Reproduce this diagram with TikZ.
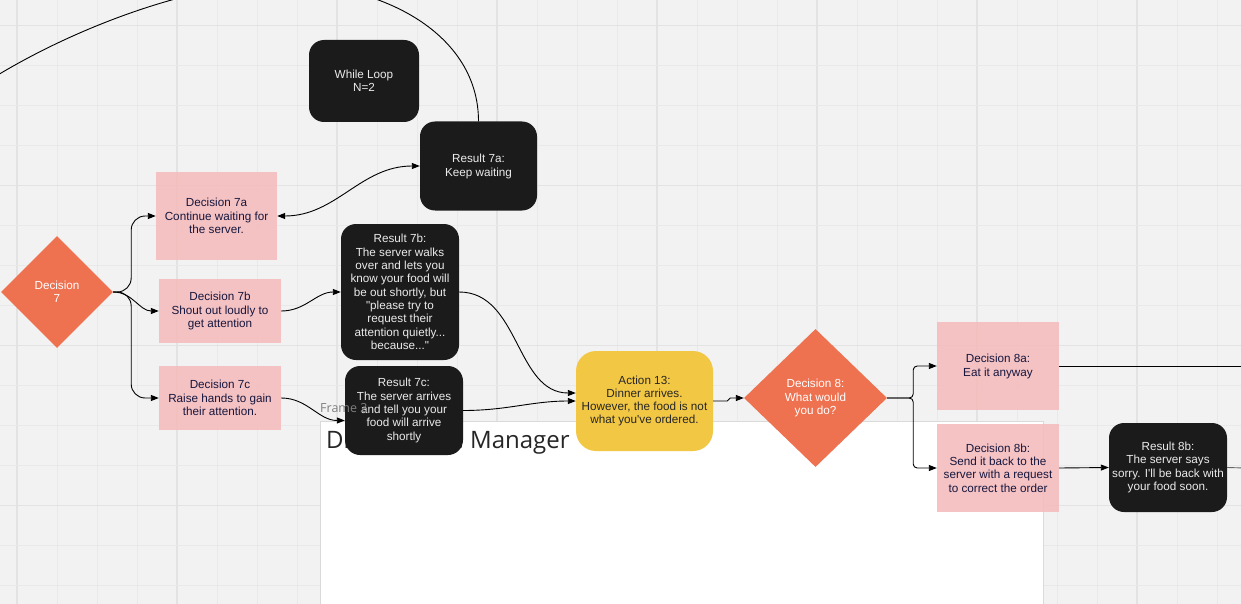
\documentclass[tikz,border=0pt]{standalone}
\usepackage{fontspec}
\setmainfont{Liberation Sans}
\newfontfamily\framefont{Open Sans}
\usetikzlibrary{arrows.meta,shapes.geometric,calc}
\definecolor{cBg}{RGB}{242,242,242}
\definecolor{cGridThin}{RGB}{233,233,233}
\definecolor{cGridThick}{RGB}{227,227,227}
\definecolor{cPink}{RGB}{245,189,189}
\definecolor{cNavy}{RGB}{22,22,62}
\definecolor{cCoral}{RGB}{238,113,80}
\definecolor{cDark}{RGB}{27,27,27}
\definecolor{cYellow}{RGB}{242,199,68}
\definecolor{cFrameGray}{RGB}{128,128,128}
\definecolor{cFrameEdge}{RGB}{218,218,218}
\begin{document}
\begin{tikzpicture}[x=1pt,y=-1pt,
  every node/.style={font=\fontsize{11.7}{13.3}\selectfont, align=center, inner sep=0pt},
  pinkstep/.style={rectangle, fill=cPink, fill opacity=0.9, text opacity=1, text=cNavy},
  darkstep/.style={rectangle, rounded corners=15pt, fill=cDark, text=white!92!black},
  decisionstep/.style={diamond, fill=cCoral, text=white, shape aspect=1},
  actionstep/.style={rectangle, rounded corners=20pt, fill=cYellow, text=black!85},
  conn/.style={draw=black, line width=0.9pt, -{Triangle[length=8pt,width=6pt]}},
  plainline/.style={draw=black, line width=0.9pt},
]
\useasboundingbox (0,0) rectangle (1241,604);
\clip (0,0) rectangle (1241,604);
% background and grid
\fill[cBg] (0,0) rectangle (1241,604);
\foreach \k in {0,...,30} {
  \pgfmathtruncatemacro{\m}{mod(\k,4)}
  \ifnum\m=0
    \draw[cGridThick, line width=1.3pt] ({17+40*\k},0) -- ({17+40*\k},604);
  \else
    \draw[cGridThin, line width=0.9pt] ({17+40*\k},0) -- ({17+40*\k},604);
  \fi
}
\foreach \k in {0,...,14} {
  \pgfmathtruncatemacro{\m}{mod(\k,4)}
  \ifnum\m=0
    \draw[cGridThick, line width=1.3pt] (0,{25.7+40*\k}) -- (1241,{25.7+40*\k});
  \else
    \draw[cGridThin, line width=0.9pt] (0,{25.7+40*\k}) -- (1241,{25.7+40*\k});
  \fi
}
% frame
\node[rectangle, draw=cFrameEdge, line width=0.8pt, fill=white, minimum width=723, minimum height=200, anchor=north west] (frame) at (320,421) {};
\node[anchor=base west, font=\framefont\fontsize{24}{28}\selectfont, text=black!85] (frametitle) at (326,448) {Dinner Time Manager};

% nodes
\node[darkstep, minimum width=110, minimum height=82] (loop) at (364,81) {While Loop\\N=2};
\node[darkstep, minimum width=117, minimum height=89] (r7a) at (478.5,166) {\strut Result 7a:\\Keep waiting};
\node[pinkstep, minimum width=121, minimum height=88] (d7a) at (216.5,216) {Decision 7a\\Continue waiting for\\the server.};
\node[decisionstep, minimum width=112, minimum height=112] (d7) at (57,292) {Decision\\7};
\node[pinkstep, minimum width=122, minimum height=64] (d7b) at (220,311) {Decision 7b\\Shout out loudly to\\get attention};
\node[pinkstep, minimum width=122, minimum height=64] (d7c) at (220,398) {Decision 7c\\Raise hands to gain\\their attention.};
\node[darkstep, minimum width=118, minimum height=136] (r7b) at (400,292) {Result 7b:\\The server walks\\over and lets you\\know your food will\\be out shortly, but\\\textquotedbl please try to\\request their\\attention quietly...\\because...\textquotedbl};
\node[darkstep, minimum width=118, minimum height=89] (r7c) at (404,410.5) {Result 7c:\\The server arrives\\and tell you your\\food will arrive\\shortly};
\node[actionstep, minimum width=137, minimum height=100] (a13) at (644.5,401) {Action 13:\\Dinner arrives.\\However, the food is not\\what you\textquotesingle ve ordered.};
\node[decisionstep, minimum width=143, minimum height=138] (d8) at (815.5,398) {Decision 8:\\What would\\you do?};
\node[pinkstep, minimum width=122, minimum height=88] (d8a) at (998,366) {\strut Decision 8a:\\Eat it anyway};
\node[pinkstep, minimum width=122, minimum height=88] (d8b) at (998,468) {Decision 8b:\\Send it back to the\\server with a request\\to correct the order};
\node[darkstep, minimum width=118, minimum height=89] (r8b) at (1168,467.5) {Result 8b:\\The server says\\sorry. I\textquotesingle ll be back with\\your food soon.};

% frame label (drawn over the nodes, as in the picture)
\node[anchor=base west, font=\framefont\fontsize{12.5}{15}\selectfont, text=cFrameGray] (framelabel) at (320,412) {Frame 2};

% free ends
\coordinate (loopTop) at (278,-17);
\coordinate (loopEnd) at (-40,100);
\coordinate (exitA) at (1245,366);
\coordinate (exitB) at (1245,468);

% connectors
\draw[plainline] (r7a.north) .. controls (478.5,35) and (385,-17) .. (loopTop) .. controls (185,-17) and (45,38) .. (loopEnd);
\draw[conn, rounded corners=14pt] (d7.east) -- ++(18,0) |- (d7a.west);
\draw[conn] (d7.east) to[out=0,in=180] (d7b.west);
\draw[conn, rounded corners=14pt] (d7.east) -- ++(18,0) |- (d7c.west);
\draw[conn, {Triangle[length=8pt,width=6pt]}-{Triangle[length=8pt,width=6pt]}] (d7a.east) to[out=0,in=180] (r7a.west);
\draw[conn] (d7b.east) to[out=0,in=180] (r7b.west);
\draw[conn] (d7c.east) to[out=0,in=180] ($(r7c.west)+(0,10)$);
\draw[conn] (r7b.east) to[out=0,in=180] ($(a13.west)+(0,-8)$);
\draw[conn] (r7c.east) to[out=0,in=180] (a13.west);
\draw[conn] (a13.east) -- ++(14,0) -- ++(3,-3) -- (d8.west);
\draw[conn, rounded corners=4pt] (d8.east) -- ++(26,0) |- (d8a.west);
\draw[conn, rounded corners=4pt] (d8.east) -- ++(26,0) |- (d8b.west);
\draw[plainline] (d8a.east) -- (exitA);
\draw[conn] (d8b.east) -- (r8b.west);
\draw[plainline, draw=black!60] (r8b.east) -- (exitB);
\end{tikzpicture}
\end{document}
